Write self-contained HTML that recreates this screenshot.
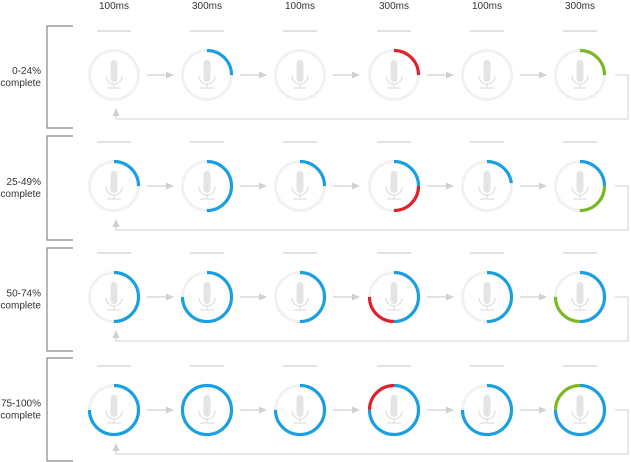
<!DOCTYPE html>
<html><head><meta charset="utf-8"><style>
html,body{margin:0;padding:0;background:#fff;}
svg{display:block;font-family:"Liberation Sans",sans-serif;}
</style></head><body>
<svg id="s" width="631" height="462" viewBox="0 0 631 462" xmlns="http://www.w3.org/2000/svg"></svg>
<script>
const s=document.getElementById('s');
const NS='http://www.w3.org/2000/svg';
function el(t,a,txt){const e=document.createElementNS(NS,t);for(const k in a)e.setAttribute(k,a[k]);if(txt!==undefined)e.textContent=txt;s.appendChild(e);return e;}
const cols=[114,207,300,394,487,580];
const rows=[75,186,297,410];
const br=[[26,128],[136,240],[248,351],[358,461]];
const heads=["100ms","300ms","100ms","300ms","100ms","300ms"];
heads.forEach((h,i)=>el('text',{x:cols[i],y:9,'font-size':10,'text-anchor':'middle',fill:'#333'},h));
const labels=[["0-24%","complete"],["25-49%","complete"],["50-74%","complete"],["75-100%","complete"]];
const B='#1a9fe0',R='#e0202a',G='#7ab822';
// segments: [start,end,color]
const data=[
 [[],[[0,.25,B]],[],[[0,.25,R]],[],[[0,.25,G]]],
 [[[0,.25,B]],[[0,.5,B]],[[0,.25,B]],[[0,.25,B],[.25,.5,R]],[[0,.23,B]],[[0,.25,B],[.25,.5,G]]],
 [[[0,.5,B]],[[0,.75,B]],[[0,.5,B]],[[0,.5,B],[.5,.75,R]],[[0,.5,B]],[[0,.5,B],[.5,.75,G]]],
 [[[0,.75,B]],[[0,1,B]],[[0,.75,B]],[[0,.75,B],[.75,1,R]],[[0,.75,B]],[[0,.75,B],[.75,1,G]]]
];
const r=24.5,C=2*Math.PI*r;
rows.forEach((cy,ri)=>{
 const [t,b]=br[ri];
 el('polyline',{points:`73,${t} 47,${t} 47,${b} 73,${b}`,fill:'none',stroke:'#888','stroke-width':1.2});
 const my=(t+b)/2;
 el('text',{x:41,y:my-3,'font-size':10,'text-anchor':'end',fill:'#333'},labels[ri][0]);
 el('text',{x:41,y:my+9,'font-size':10,'text-anchor':'end',fill:'#333'},labels[ri][1]);
 // return line
 const ry=cy+44;
 el('polyline',{points:`615,${cy} 628,${cy} 628,${ry} 116,${ry} 116,${cy+36}`,fill:'none',stroke:'#d0d0d0','stroke-width':1});
 el('polygon',{points:`116,${cy+33} 112.5,${cy+41} 119.5,${cy+41}`,fill:'#d0d0d0'});
 cols.forEach((cx,ci)=>{
  el('line',{x1:cx-17,y1:cy-44,x2:cx+17,y2:cy-44,stroke:'#e2e2e2','stroke-width':2});
  el('circle',{cx,cy,r,fill:'none',stroke:'#ececec','stroke-width':3,'stroke-dasharray':'1.5 0.6'});
  // mic
  el('rect',{x:cx-3.5,y:cy-15,width:7,height:22,rx:3.5,fill:'#e4e4e4'});
  el('path',{d:`M${cx-8},${cy+1} a8,8 0 0 0 16,0`,fill:'none',stroke:'#e0e0e0','stroke-width':1.3});
  el('line',{x1:cx,y1:cy+9,x2:cx,y2:cy+13,stroke:'#e0e0e0','stroke-width':1.3});
  el('line',{x1:cx-7,y1:cy+13,x2:cx+7,y2:cy+13,stroke:'#e0e0e0','stroke-width':1.3});
  data[ri][ci].forEach(([a,e,c])=>{
   el('circle',{cx,cy,r,fill:'none',stroke:c,'stroke-width':3.2,'stroke-dasharray':`${(e-a)*C} ${C}`,'stroke-dashoffset':-a*C,transform:`rotate(-90 ${cx} ${cy})`});
  });
  if(ci<5){
   el('line',{x1:cx+33,y1:cy,x2:cx+53,y2:cy,stroke:'#d0d0d0','stroke-width':1.2});
   el('polygon',{points:`${cx+60},${cy} ${cx+52},${cy-3.5} ${cx+52},${cy+3.5}`,fill:'#d0d0d0'});
  }
 });
});
</script>
</body></html>
